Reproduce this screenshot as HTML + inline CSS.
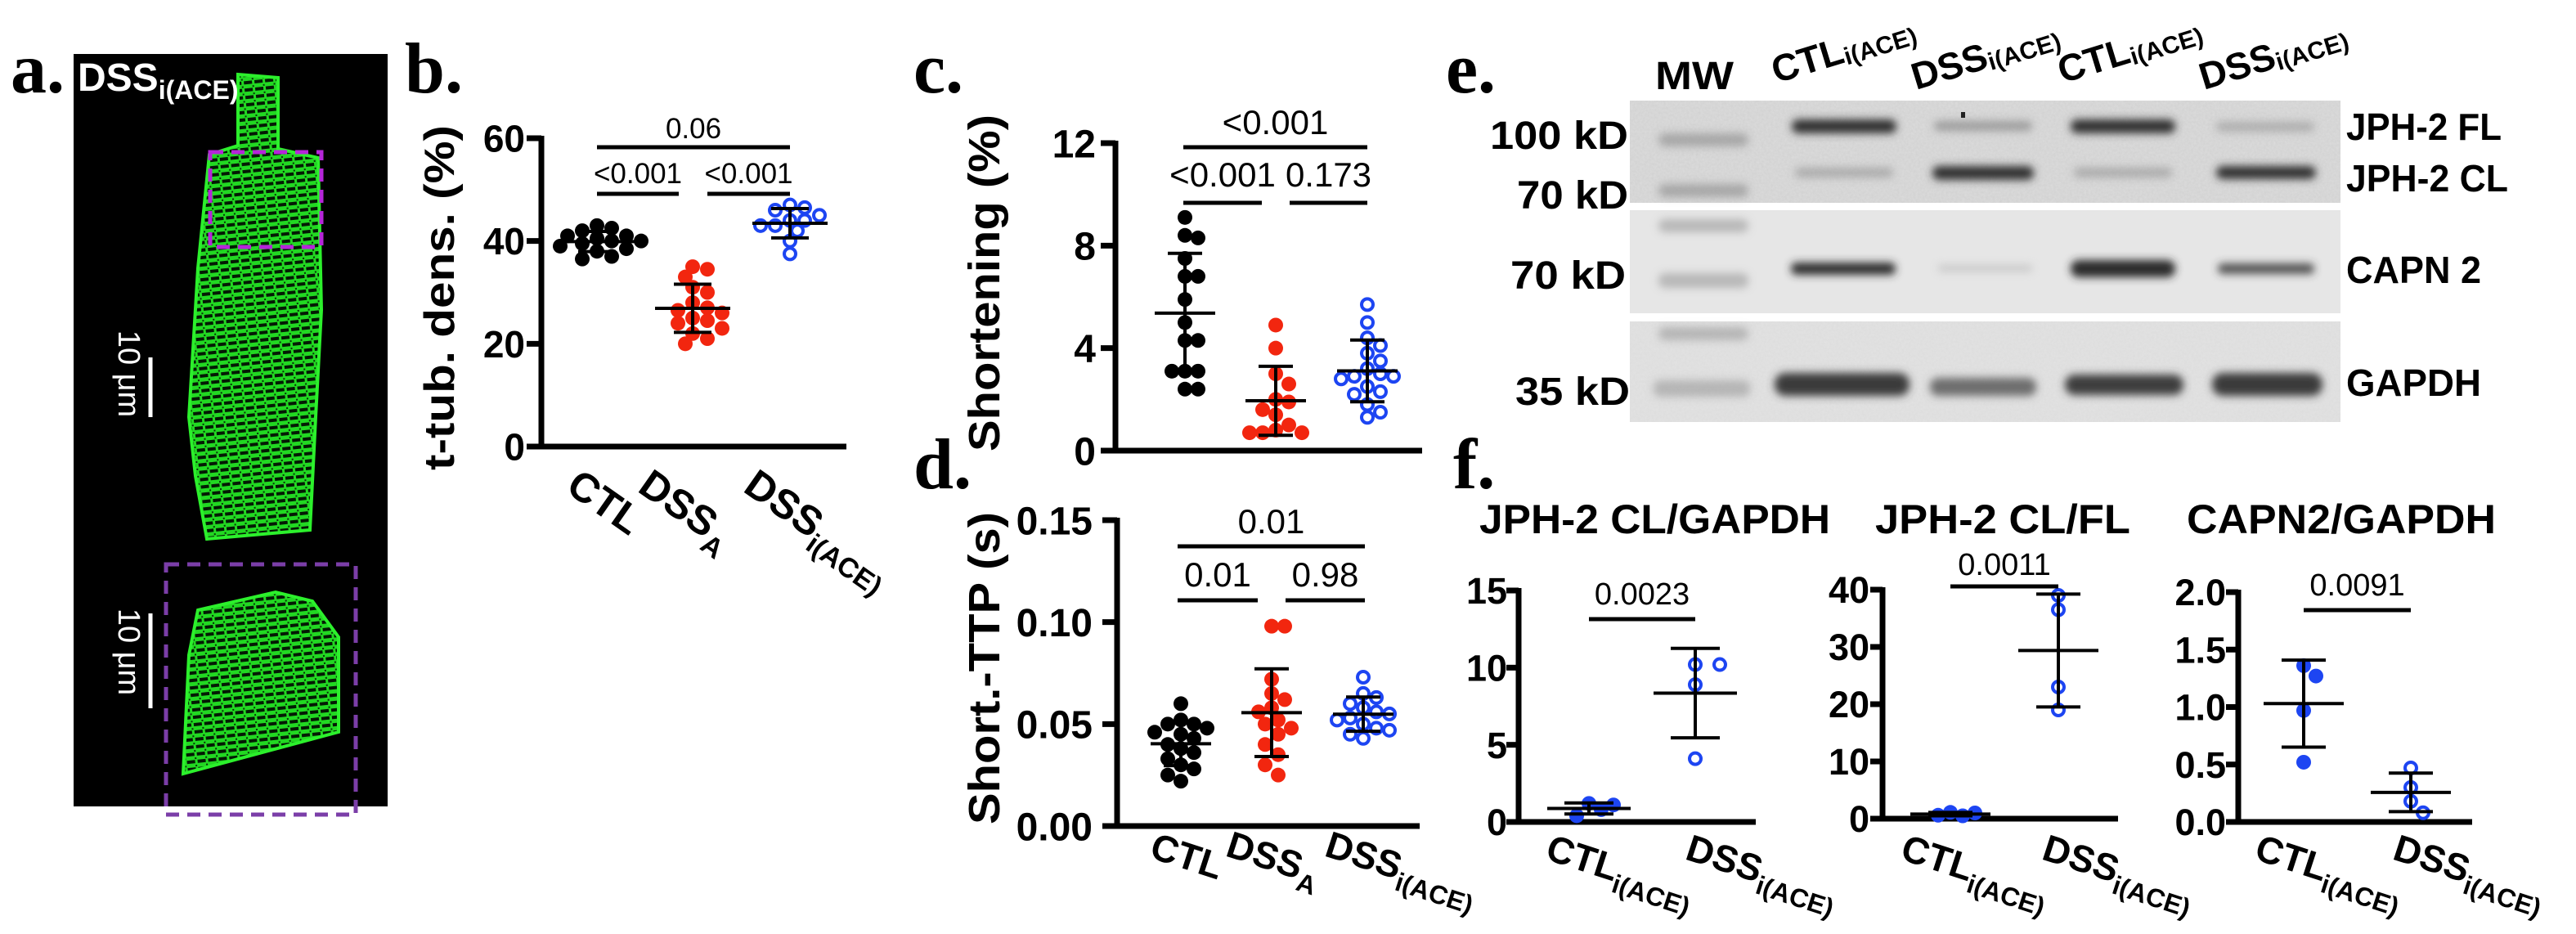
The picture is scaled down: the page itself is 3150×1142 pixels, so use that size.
<!DOCTYPE html>
<html><head><meta charset="utf-8"><style>
html,body{margin:0;padding:0;background:#fff;}
svg{display:block;font-family:"Liberation Sans",Arial,sans-serif;}
</style></head><body>
<svg id="fig" width="3150" height="1142" viewBox="0 0 3150 1142" xmlns="http://www.w3.org/2000/svg">
<defs>
<pattern id="stri" width="13" height="9" patternUnits="userSpaceOnUse" patternTransform="rotate(-6)">
<rect width="13" height="9" fill="#22d822"/>
<rect x="0" y="4" width="10" height="4" fill="#041a04"/>
<rect x="10" y="1" width="2" height="2" fill="#083008"/>
</pattern>
<filter id="blur6" x="-20%" y="-100%" width="140%" height="300%"><feGaussianBlur stdDeviation="5"/></filter>
<filter id="noise"><feTurbulence type="fractalNoise" baseFrequency="0.35" numOctaves="2" seed="3"/><feColorMatrix type="matrix" values="0 0 0 0 0.5 0 0 0 0 0.5 0 0 0 0 0.5 0 0 0 0.35 0"/><feComposite in2="SourceGraphic" operator="in"/></filter>
</defs>

<g>
<text x="13" y="113" font-family="Liberation Serif,serif" font-weight="bold" font-size="88">a.</text>
<rect x="90" y="66" width="384" height="920" fill="#000"/>
<polygon points="291,91 340,95 340,182 389,193 393,379 386,510 379,648 253,659 239,582 231,510 242,328 256,189 291,178" fill="url(#stri)" stroke="#2cf02c" stroke-width="4"/>
<polygon points="242,746 337,724 382,735 414,779 414,895 224,946 231,801" fill="url(#stri)" stroke="#2cf02c" stroke-width="4"/>
<rect x="257" y="186" width="136" height="116" fill="none" stroke="#b526d8" stroke-width="5" stroke-dasharray="16,10"/>
<rect x="203" y="690" width="232" height="306" fill="none" stroke="#7b3ea8" stroke-width="5" stroke-dasharray="16,10"/>
<text x="95" y="111" fill="#fff" font-weight="bold" font-size="48">DSS<tspan font-size="32" dy="10">i(ACE)</tspan></text>
<line x1="184" y1="437" x2="184" y2="510" stroke="#fff" stroke-width="5"/>
<text transform="translate(145,457) rotate(90)" text-anchor="middle" fill="#fff" font-size="38">10 μm</text>
<line x1="184" y1="750" x2="184" y2="866" stroke="#fff" stroke-width="5"/>
<text transform="translate(145,797) rotate(90)" text-anchor="middle" fill="#fff" font-size="38">10 μm</text>
</g>

<g id="blot">
<text x="1768" y="113" font-family="Liberation Serif,serif" font-weight="bold" font-size="88">e.</text>
<text x="2024" y="109" font-weight="bold" font-size="48" textLength="96" lengthAdjust="spacingAndGlyphs">MW</text>
<rect x="1993" y="123" width="869" height="125" fill="#dcdcdc"/>
<rect x="1993" y="123" width="869" height="125" fill="#fff" filter="url(#noise)"/>
<rect x="1993" y="257" width="869" height="126" fill="#e6e6e6"/>
<rect x="1993" y="393" width="869" height="123" fill="#e3e3e3"/>
<rect x="1993" y="393" width="869" height="123" fill="#fff" filter="url(#noise)" opacity="0.5"/>
<g filter="url(#blur6)">
<rect x="2028" y="163" width="110" height="16" rx="8" fill="#888" opacity="0.6"/>
<rect x="2028" y="225" width="110" height="16" rx="8" fill="#888" opacity="0.6"/>
<rect x="2191" y="146" width="128" height="17" rx="8" fill="#333"/>
<rect x="2365" y="148" width="120" height="12" rx="6" fill="#777" opacity="0.6"/>
<rect x="2532" y="146" width="128" height="17" rx="8" fill="#333"/>
<rect x="2710" y="149" width="120" height="12" rx="6" fill="#888" opacity="0.5"/>
<rect x="2195" y="205" width="120" height="12" rx="6" fill="#888" opacity="0.55"/>
<rect x="2363" y="203" width="124" height="17" rx="8" fill="#333"/>
<rect x="2536" y="205" width="120" height="12" rx="6" fill="#888" opacity="0.55"/>
<rect x="2710" y="203" width="122" height="16" rx="8" fill="#333"/>
<rect x="2028" y="268" width="110" height="16" rx="8" fill="#999" opacity="0.6"/>
<rect x="2028" y="334" width="110" height="18" rx="8" fill="#999" opacity="0.6"/>
<rect x="2190" y="321" width="128" height="15" rx="7" fill="#2e2e2e"/>
<rect x="2370" y="324" width="115" height="8" rx="4" fill="#aaa" opacity="0.5"/>
<rect x="2532" y="318" width="128" height="21" rx="10" fill="#2a2a2a"/>
<rect x="2712" y="322" width="118" height="13" rx="6" fill="#3a3a3a" opacity="0.85"/>
<rect x="2028" y="400" width="110" height="16" rx="8" fill="#999" opacity="0.6"/>
<rect x="2022" y="465" width="118" height="20" rx="8" fill="#999" opacity="0.6"/>
<rect x="2170" y="456" width="165" height="28" rx="13" fill="#3a3a3a"/>
<rect x="2360" y="462" width="130" height="22" rx="10" fill="#5a5a5a" opacity="0.85"/>
<rect x="2525" y="458" width="145" height="25" rx="12" fill="#3c3c3c"/>
<rect x="2705" y="456" width="135" height="28" rx="13" fill="#3a3a3a"/>
</g>
<rect x="2398" y="137" width="5" height="7" fill="#222"/>
<g font-weight="bold" font-size="48">
<text x="1991" y="182" text-anchor="end" textLength="169" lengthAdjust="spacingAndGlyphs">100 kD</text>
<text x="1991" y="255" text-anchor="end" textLength="136" lengthAdjust="spacingAndGlyphs">70 kD</text>
<text x="1988" y="353" text-anchor="end" textLength="141" lengthAdjust="spacingAndGlyphs">70 kD</text>
<text x="1993" y="495" text-anchor="end" textLength="140" lengthAdjust="spacingAndGlyphs">35 kD</text>
</g>
<g font-weight="bold" font-size="46">
<text x="2869" y="171" textLength="190" lengthAdjust="spacingAndGlyphs">JPH-2 FL</text>
<text x="2869" y="234" textLength="198" lengthAdjust="spacingAndGlyphs">JPH-2 CL</text>
<text x="2869" y="346" textLength="165" lengthAdjust="spacingAndGlyphs">CAPN 2</text>
<text x="2869" y="484" textLength="165" lengthAdjust="spacingAndGlyphs">GAPDH</text>
</g>
<g font-weight="bold" font-size="46">
<text transform="translate(2172,102) rotate(-17)">CTL<tspan font-size="30" dy="4">i(ACE)</tspan></text>
<text transform="translate(2343,110) rotate(-17)">DSS<tspan font-size="30" dy="4">i(ACE)</tspan></text>
<text transform="translate(2522,102) rotate(-17)">CTL<tspan font-size="30" dy="4">i(ACE)</tspan></text>
<text transform="translate(2695,110) rotate(-17)">DSS<tspan font-size="30" dy="4">i(ACE)</tspan></text>
</g>
</g>

<g id="charts"></g>
</svg>
<script>
// ---------- data ----------
const bTicks=[0,20,40,60];
const bTickLabels=['0','20','40','60'];
const bCTL=[43,42.5,42,41,41,40.5,40,40,39.5,39,38.5,38,37,36.5];
const bDSSA=[35,34.5,33,31,30,28,27,26.5,26,25,24.5,24,23,22,21,20];
const bDSSi=[47,46.5,46,45,44,44,43,43,42,40,37.5];
const bSig=['0.06','<0.001','<0.001'];

const cTicks=[0,4,8,12];
const cTickLabels=['0','4','8','12'];
const cCTL=[9.1,8.4,8.3,7.5,6.8,6.8,5.9,5.0,4.3,4.3,3.1,3.1,3.1,2.4,2.4];
const cDSSA=[4.9,4.0,3.0,2.6,2.0,1.9,1.6,1.4,1.0,0.8,0.7,0.7,0.7];
const cDSSi=[5.7,5.0,4.4,4.1,3.8,3.5,3.2,3.0,2.9,2.9,2.8,2.5,2.3,2.2,1.8,1.5,1.3];
const cSig=['<0.001','<0.001','0.173'];

const dTicks=[0,0.05,0.10,0.15];
const dTickLabels=['0.00','0.05','0.10','0.15'];
const dCTL=[0.060,0.052,0.050,0.050,0.048,0.046,0.045,0.043,0.040,0.038,0.036,0.033,0.030,0.028,0.025,0.022];
const dDSSA=[0.098,0.098,0.072,0.065,0.062,0.058,0.056,0.052,0.050,0.048,0.045,0.040,0.035,0.030,0.025];
const dDSSi=[0.073,0.065,0.063,0.060,0.058,0.056,0.055,0.053,0.052,0.050,0.048,0.047,0.045,0.043];
const dSig=['0.01','0.01','0.98'];

const f1Ticks=[0,5,10,15];
const f1TickLabels=['0','5','10','15'];
const f1CTL=[0.4,1.2,0.8,1.1];
const f1DSS=[10.2,10.2,8.9,4.1];
const f1Sig='0.0023';

const f2Ticks=[0,10,20,30,40];
const f2TickLabels=['0','10','20','30','40'];
const f2CTL=[0.5,1.1,0.6,1.0];
const f2DSS=[39,36.5,23,19];
const f2Sig='0.0011';

const f3Ticks=[0,0.5,1.0,1.5,2.0];
const f3TickLabels=['0.0','0.5','1.0','1.5','2.0'];
const f3CTL=[1.27,1.36,0.97,0.52];
const f3DSS=[0.47,0.30,0.18,0.08];
const f3Sig='0.0091';

// ---------- drawing ----------
const NS='http://www.w3.org/2000/svg';
const root=document.getElementById('charts');
const RED='#f2260f', BLUE='#1d45f2';
function el(tag,parent){const e=document.createElementNS(NS,tag);parent.appendChild(e);return e;}
function mean(a){return a.reduce((s,v)=>s+v,0)/a.length;}
function sd(a){const m=mean(a);return Math.sqrt(a.reduce((s,v)=>s+(v-m)*(v-m),0)/(a.length-1));}

function makeAxis(cfg,name){
  const g=el('g',root);
  
  
  cfg.sy=v=>cfg.yBot-(v/cfg.vmax)*(cfg.yBot-cfg.yTop);
  const ya=el('line',g);
  ya.setAttribute('x1',cfg.ax);ya.setAttribute('x2',cfg.ax);
  ya.setAttribute('y1',cfg.yTop-3);ya.setAttribute('y2',cfg.yBot+cfg.aw/2);
  ya.setAttribute('stroke','#000');ya.setAttribute('stroke-width',cfg.aw);
  
  
  const xa=el('line',g);
  xa.setAttribute('x1',cfg.ax-cfg.tl);xa.setAttribute('x2',cfg.xEnd);
  xa.setAttribute('y1',cfg.yBot);xa.setAttribute('y2',cfg.yBot);
  xa.setAttribute('stroke','#000');xa.setAttribute('stroke-width',cfg.aw);
  
  
  cfg.ticks.forEach((t,i)=>{
    const y=cfg.sy(t);
    const tk=el('line',g);
    tk.setAttribute('x1',cfg.ax-cfg.tl);tk.setAttribute('x2',cfg.ax);
    tk.setAttribute('y1',y);tk.setAttribute('y2',y);
    tk.setAttribute('stroke','#000');tk.setAttribute('stroke-width',cfg.aw);
    
    
    const tx=el('text',g);
    tx.setAttribute('x',cfg.lx);tx.setAttribute('y',y+cfg.fs*0.36);
    tx.setAttribute('text-anchor','end');tx.setAttribute('font-weight','bold');
    tx.setAttribute('font-size',cfg.fs);
    tx.textContent=cfg.labels[i];
    
    
  });
  return g;
}

function swarm(vals,cx,r,sy,step){
  const pts=[];const sorted=vals.slice().sort((a,b)=>b-a);
  sorted.forEach(v=>{
    const y=sy(v);
    for(let k=0;k<40;k++){
      const off=(k%2?1:-1)*Math.ceil(k/2)*step;
      const x=cx+off;
      if(pts.every(p=>Math.hypot(p.x-x,p.y-y)>=r*1.7)){pts.push({x,y});break;}
    }
  });
  return pts;
}

function group(g,cfg,vals,cx,color,open,name){
  const gg=el('g',g);
  
  
  swarm(vals,cx,cfg.r,cfg.sy,cfg.step).forEach(p=>{
    const c=el('circle',gg);
    c.setAttribute('cx',p.x);c.setAttribute('cy',p.y);
    c.setAttribute('r',open?cfg.r-2:cfg.r);
    if(open){c.setAttribute('fill','#fff');c.setAttribute('stroke',color);c.setAttribute('stroke-width',4);}
    else c.setAttribute('fill',color);
    
    
  });
  const m=mean(vals),s=sd(vals);
  const ym=cfg.sy(m),y1=cfg.sy(m+s),y2=cfg.sy(Math.max(m-s,0));
  const segs=[[cx-cfg.mw,ym,cx+cfg.mw,ym,'mean-line'],[cx,y1,cx,y2,'sd-line'],[cx-cfg.cw,y1,cx+cfg.cw,y1,'sd-cap-upper'],[cx-cfg.cw,y2,cx+cfg.cw,y2,'sd-cap-lower']];
  segs.forEach(sg=>{
    const l=el('line',gg);
    l.setAttribute('x1',sg[0]);l.setAttribute('y1',sg[1]);l.setAttribute('x2',sg[2]);l.setAttribute('y2',sg[3]);
    l.setAttribute('stroke','#000');l.setAttribute('stroke-width',4);
    
    
  });
}

function sig(g,x1,x2,y,label,ty,fs){
  const l=el('line',g);
  l.setAttribute('x1',x1);l.setAttribute('x2',x2);l.setAttribute('y1',y);l.setAttribute('y2',y);
  l.setAttribute('stroke','#000');l.setAttribute('stroke-width',5);
  
  
  const t=el('text',g);
  t.setAttribute('x',(x1+x2)/2);t.setAttribute('y',ty);t.setAttribute('text-anchor','middle');
  t.setAttribute('font-size',fs);
  t.textContent=label;
  
  
}

function txt(g,s,x,y,fs,opts,name){
  const t=el('text',g);
  t.setAttribute('x',x);t.setAttribute('y',y);t.setAttribute('font-size',fs);
  if(opts.bold)t.setAttribute('font-weight','bold');
  if(opts.anchor)t.setAttribute('text-anchor',opts.anchor);
  if(opts.tf)t.setAttribute('transform',opts.tf);
  if(opts.len){t.setAttribute('textLength',opts.len);t.setAttribute('lengthAdjust','spacingAndGlyphs');}
  if(opts.serif)t.setAttribute('font-family','Liberation Serif,serif');
  t.textContent=s;
  if(opts.sub){const ts=el('tspan',t);ts.setAttribute('font-size',opts.subfs);ts.setAttribute('dy',opts.subdy);ts.textContent=opts.sub;}
  
  
  return t;
}

// Panel b
const cfgB={ax:662,yTop:169,yBot:546,vmax:60,xEnd:1035,tl:18,aw:7,lx:642,fs:46,ticks:bTicks,labels:bTickLabels,r:9,step:9,mw:46,cw:23};
const gB=makeAxis(cfgB,'panel-b-chart');
txt(gB,'b.',495,113,88,{bold:true,serif:true},'panel-b-label');
txt(gB,'t-tub. dens. (%)',0,0,52,{bold:true,anchor:'middle',tf:'translate(555,364) rotate(-90)',len:422},'y-axis-title');
group(gB,cfgB,bCTL,730,'#000',false,'group-ctl');
group(gB,cfgB,bDSSA,847,RED,false,'group-dss-a');
group(gB,cfgB,bDSSi,966,BLUE,true,'group-dss-iace');
sig(gB,730,966,180,bSig[0],169,35);
sig(gB,730,830,237,bSig[1],224,35);
sig(gB,865,966,237,bSig[2],224,35);
txt(gB,'CTL',0,0,50,{bold:true,tf:'translate(690,600) rotate(35)'},'x-label-ctl');
txt(gB,'DSS',0,0,50,{bold:true,tf:'translate(778,600) rotate(35)',sub:'A',subfs:34,subdy:14},'x-label-dss-a');
txt(gB,'DSS',0,0,50,{bold:true,tf:'translate(907,600) rotate(35)',sub:'i(ACE)',subfs:34,subdy:14},'x-label-dss-iace');

// Panel c
const cfgC={ax:1364,yTop:175,yBot:551,vmax:12,xEnd:1739,tl:18,aw:7,lx:1340,fs:48,ticks:cTicks,labels:cTickLabels,r:9,step:8,mw:37,cw:21};
const gC=makeAxis(cfgC,'panel-c-chart');
txt(gC,'c.',1117,113,88,{bold:true,serif:true},'panel-c-label');
txt(gC,'Shortening (%)',0,0,54,{bold:true,anchor:'middle',tf:'translate(1222,346) rotate(-90)',len:412},'y-axis-title');
group(gC,cfgC,cCTL,1449,'#000',false,'group-ctl');
group(gC,cfgC,cDSSA,1560,RED,false,'group-dss-a');
group(gC,cfgC,cDSSi,1672,BLUE,true,'group-dss-iace');
sig(gC,1447,1672,180,cSig[0],164,42);
sig(gC,1447,1543,248,cSig[1],228,42);
sig(gC,1577,1672,248,cSig[2],228,42);

// Panel d
const cfgD={ax:1366,yTop:636,yBot:1010,vmax:0.15,xEnd:1736,tl:18,aw:7,lx:1336,fs:48,ticks:dTicks,labels:dTickLabels,r:9,step:8,mw:37,cw:21};
const gD=makeAxis(cfgD,'panel-d-chart');
txt(gD,'d.',1117,597,88,{bold:true,serif:true},'panel-d-label');
txt(gD,'Short.-TTP (s)',0,0,54,{bold:true,anchor:'middle',tf:'translate(1222,817) rotate(-90)',len:382},'y-axis-title');
group(gD,cfgD,dCTL,1444,'#000',false,'group-ctl');
group(gD,cfgD,dDSSA,1555,RED,false,'group-dss-a');
group(gD,cfgD,dDSSi,1667,BLUE,true,'group-dss-iace');
sig(gD,1440,1669,668,dSig[0],652,42);
sig(gD,1440,1538,734,dSig[1],717,42);
sig(gD,1572,1669,734,dSig[2],717,42);
txt(gD,'CTL',0,0,46,{bold:true,tf:'translate(1404,1048) rotate(18)'},'x-label-ctl');
txt(gD,'DSS',0,0,46,{bold:true,tf:'translate(1497,1046) rotate(18)',sub:'A',subfs:32,subdy:13},'x-label-dss-a');
txt(gD,'DSS',0,0,46,{bold:true,tf:'translate(1618,1046) rotate(18)',sub:'i(ACE)',subfs:32,subdy:13},'x-label-dss-iace');

// Panel f
const gF=el('g',root);


txt(gF,'f.',1777,597,88,{bold:true,serif:true},'panel-f-label');
function fPlot(cfg,title,tx,tlen,ctl,dss,cx1,cx2,sigLabel,sigY,sigTY,lab1,lab2,name){
  const g=makeAxis(cfg,name);
  txt(g,title,tx,652,50,{bold:true,len:tlen},'subplot-title');
  group(g,cfg,ctl,cx1,BLUE,false,'group-ctl-iace');
  group(g,cfg,dss,cx2,BLUE,true,'group-dss-iace');
  sig(g,cx1,cx2,sigY,sigLabel,sigTY,38);
  txt(g,'CTL',0,0,46,{bold:true,tf:'translate('+lab1+',1050) rotate(18)',sub:'i(ACE)',subfs:32,subdy:13},'x-label-ctl-iace');
  txt(g,'DSS',0,0,46,{bold:true,tf:'translate('+lab2+',1050) rotate(18)',sub:'i(ACE)',subfs:32,subdy:13},'x-label-dss-iace');
}
fPlot({ax:1857,yTop:722,yBot:1005,vmax:15,xEnd:2147,tl:15,aw:7,lx:1843,fs:45,ticks:f1Ticks,labels:f1TickLabels,r:9,step:15,mw:51,cw:30},
  'JPH-2 CL/GAPDH',1809,429,f1CTL,f1DSS,1943,2073,f1Sig,757,739,1888,2059,'panel-f-jph2-cl-gapdh');
fPlot({ax:2302,yTop:721,yBot:1001,vmax:40,xEnd:2590,tl:15,aw:7,lx:2286,fs:45,ticks:f2Ticks,labels:f2TickLabels,r:9,step:15,mw:49,cw:27},
  'JPH-2 CL/FL',2293,312,f2CTL,f2DSS,2385,2517,f2Sig,717,703,2322,2495,'panel-f-jph2-cl-fl');
fPlot({ax:2737,yTop:724,yBot:1005,vmax:2,xEnd:3023,tl:15,aw:7,lx:2722,fs:45,ticks:f3Ticks,labels:f3TickLabels,r:9,step:15,mw:49,cw:27},
  'CAPN2/GAPDH',2674,378,f3CTL,f3DSS,2817,2948,f3Sig,746,728,2755,2924,'panel-f-capn2-gapdh');
</script>
</body></html>
